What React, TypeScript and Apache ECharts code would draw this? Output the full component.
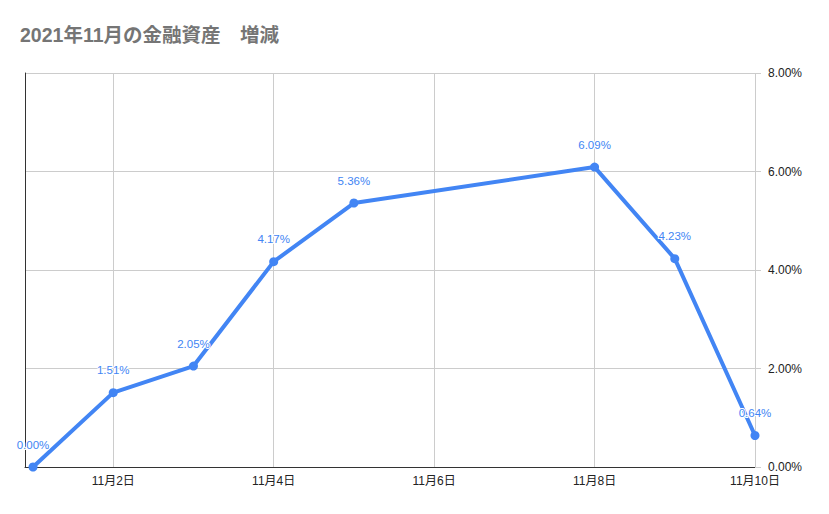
import { useEffect, useRef } from 'react';
import * as echarts from 'echarts';

const days = [1, 2, 3, 4, 5, 8, 9, 10];
const changes = [0.0, 1.51, 2.05, 4.17, 5.36, 6.09, 4.23, 0.64];
const dayTicks = [2, 4, 6, 8, 10];
const titleText = '2021年11月の金融資産　増減';

const FONT = '"Liberation Sans", Arial, "Noto Sans CJK JP", sans-serif';

export default function App() {
  const chartRef = useRef<HTMLDivElement>(null);

  useEffect(() => {
    if (!chartRef.current) return;
    const chart = echarts.init(chartRef.current, null, { renderer: 'svg' });

    const option: any = {
      animation: false,
      backgroundColor: '#fff',
      textStyle: { fontFamily: FONT },
      title: {
        text: titleText,
        left: 15,
        top: 20,
        textStyle: {
          color: '#757575',
          fontSize: 19.5,
          fontWeight: 'bold',
          fontFamily: FONT,
        },
      },
      grid: { left: 25, right: 74, top: 73, bottom: 47, containLabel: false },
      xAxis: {
        type: 'value',
        min: 0.9,
        max: 10,
        axisLine: { show: true, lineStyle: { color: '#333', width: 1 } },
        axisTick: { show: false, customValues: dayTicks },
        axisLabel: {
          customValues: dayTicks,
          color: '#222',
          fontSize: 12,
          margin: 8,
          formatter: (v: number) => `11月${v}日`,
        },
        splitLine: { show: true, lineStyle: { color: '#cccccc', width: 1 } },
      },
      yAxis: [
        {
          type: 'value',
          position: 'right',
          min: 0,
          max: 8,
          interval: 2,
          axisLine: { show: false },
          axisTick: { show: true, length: 6, lineStyle: { color: '#cccccc' } },
          axisLabel: {
            color: '#222',
            fontSize: 12,
            margin: 13,
            formatter: (v: number) => `${v.toFixed(2)}%`,
          },
          splitLine: { show: true, lineStyle: { color: '#cccccc', width: 1 } },
        },
        {
          type: 'value',
          position: 'left',
          min: 0,
          max: 8,
          interval: 2,
          axisLine: { show: true, onZero: false, lineStyle: { color: '#333', width: 1 } },
          axisTick: { show: false },
          axisLabel: { show: false },
          splitLine: { show: false },
        },
      ],
      series: [
        {
          type: 'line',
          yAxisIndex: 0,
          data: days.map((d, i) => [d, changes[i]]),
          symbol: 'circle',
          symbolSize: 9,
          clip: false,
          lineStyle: { color: '#4285f4', width: 4 },
          itemStyle: { color: '#4285f4' },
          label: {
            show: true,
            position: 'top',
            distance: 12,
            color: '#4285f4',
            fontSize: 11.5,
            textBorderColor: '#fff',
            textBorderWidth: 2,
            formatter: (p: any) => `${p.value[1].toFixed(2)}%`,
          },
        },
      ],
    };

    chart.setOption(option);
    return () => chart.dispose();
  }, []);

  return <div ref={chartRef} style={{ width: 829, height: 514, margin: -8 }} />;
}
